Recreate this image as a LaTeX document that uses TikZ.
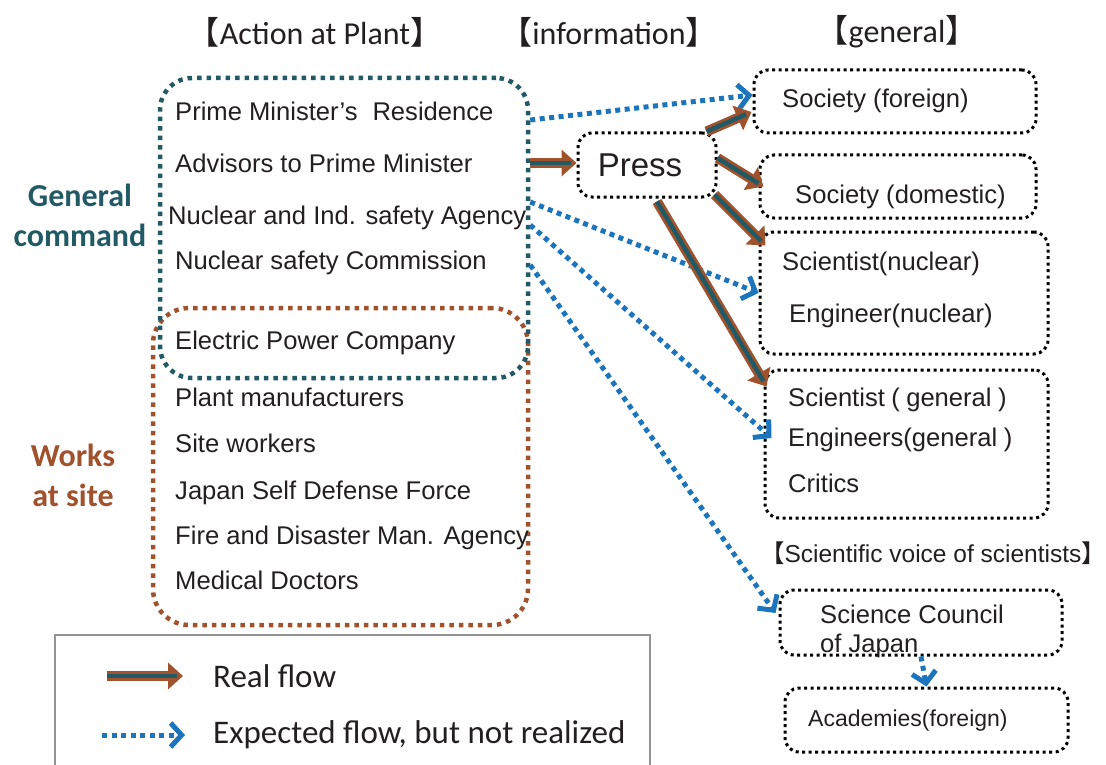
\documentclass[tikz,border=0pt]{standalone}
\usepackage{fontspec}
\setmainfont{Liberation Sans}
\newfontfamily\calfont{Carlito}
\newfontfamily\cjkfont[RawFeature=+halt]{Noto Sans CJK JP}
\usetikzlibrary{arrows.meta}
\definecolor{cmdteal}{RGB}{33,89,101}
\definecolor{sitebrown}{RGB}{160,82,45}
\definecolor{flowblue}{RGB}{28,117,188}
\definecolor{textgray}{RGB}{35,31,32}
\def\bracket#1{{\cjkfont【}#1{\cjkfont】}}
\tikzset{
	item/.style={font=\fontsize{25.6}{30}\selectfont, text=textgray, inner sep=0pt, anchor=west, text height=20pt, text depth=2pt},
	title/.style={font=\calfont\fontsize{32}{38}\selectfont, text=textgray, inner sep=0pt},
	grouplabel/.style={font=\calfont\bfseries\fontsize{32}{40}\selectfont, align=center, inner sep=0pt},
	legendtext/.style={font=\calfont\fontsize{33}{40}\selectfont, text=textgray, inner sep=0pt, anchor=west},
	dotbox/.style={draw=black, line width=3pt, dash pattern=on 3pt off 3.5pt, rounded corners=14pt, inner sep=0pt},
	groupbox/.style={line width=4.5pt, dash pattern=on 4.5pt off 5pt, inner sep=0pt},
	realflow/.style={draw=sitebrown, line width=10pt, -{Triangle[length=15pt,width=26pt]}, postaction={draw=cmdteal, line width=4.5pt, -, shorten >=6pt}},
	expflow/.style={draw=flowblue, line width=5pt, dash pattern=on 5pt off 4.5pt, -{Straight Barb[length=11pt,width=24pt]}}
}

\begin{document}
\begin{tikzpicture}[x=1pt, y=-1pt]
		%%%%% START %%%%%
		\useasboundingbox (0, 0) rectangle (1106, 765);
		
		\node[title] (plantttl) at (315, 32) {\bracket{Action at Plant}};
		\node[title] (infottl) at (609, 32) {\bracket{information}};
		\node[title] (generalttl) at (897, 32) {\bracket{general}};
		
		\node[groupbox, draw=sitebrown, rounded corners=36pt, minimum width=375pt, minimum height=317pt] (sitebox) at (340.5, 466.5) {};
		\node[groupbox, draw=cmdteal, rounded corners=32pt, minimum width=368pt, minimum height=300pt] (cmdbox) at (344, 228) {};
		
		\node[grouplabel, text=cmdteal] (cmdlabel) at (80, 215) {General\\command};
		\node[grouplabel, text=sitebrown] (sitelabel) at (73, 475) {Works\\at site};
		
		\node[item] (pmres) at (175, 112) {Prime Minister’s\hspace{0.3em} Residence};
		\node[item] (advisors) at (175, 163) {Advisors to Prime Minister};
		\node[item] (nisa) at (168, 215) {Nuclear and Ind. safety Agency};
		\node[item] (nsc) at (175, 260) {Nuclear safety Commission};
		\node[item] (epco) at (175, 340) {Electric Power Company};
		\node[item] (makers) at (175, 397) {Plant manufacturers};
		\node[item] (workers) at (175, 443) {Site workers};
		\node[item] (jsdf) at (175, 490) {Japan Self Defense Force};
		\node[item] (fdma) at (175, 535) {Fire and Disaster Man. Agency};
		\node[item] (doctors) at (175, 580) {Medical Doctors};
		
		\node[dotbox, minimum width=138pt, minimum height=64pt, font=\fontsize{33}{40}\selectfont, text=textgray] (press) at (647, 165) {\kern-14pt Press};
		
		\node[dotbox, minimum width=282pt, minimum height=63pt] (sforeign) at (895, 101.5) {};
		\node[dotbox, minimum width=276pt, minimum height=63pt] (sdomestic) at (898, 186.5) {};
		\node[dotbox, minimum width=288pt, minimum height=122pt] (scinuc) at (904, 293) {};
		\node[dotbox, minimum width=283pt, minimum height=148pt] (scigen) at (906.5, 444) {};
		\node[dotbox, minimum width=282pt, minimum height=65pt] (scj) at (921, 622.5) {};
		\node[dotbox, minimum width=283pt, minimum height=64pt] (acad) at (926.5, 720) {};
		
		\node[item] (sforeigntxt) at (782, 99) {Society (foreign)};
		\node[item] (sdomestictxt) at (795, 195) {Society (domestic)};
		\node[item] (scinuctxt) at (782, 261) {Scientist(nuclear)};
		\node[item] (enginuctxt) at (789, 313) {Engineer(nuclear)};
		\node[item] (scigentxt) at (788, 397) {Scientist\hspace{0.25em}(\hspace{0.25em}general\hspace{0.25em})};
		\node[item] (enggentxt) at (788, 437) {Engineers(general\hspace{0.25em})};
		\node[item] (criticstxt) at (788, 483) {Critics};
		
		\node[item, anchor=center, font=\fontsize{24.5}{30}\selectfont] (voicettl) at (933, 553) {\bracket{Scientific voice of scientists}};
		\node[item] (scjtxt) at (820, 614) {Science Council};
		\node[item] (scjtxtb) at (820, 643) {of Japan};
		\node[item, font=\fontsize{23}{28}\selectfont] (acadtxt) at (808, 717) {Academies(foreign)};
		
		% flows out of the command group
		\draw[expflow] ([yshift=108pt]cmdbox.east) -- ([yshift=6.5pt]sforeign.west);
		\draw[realflow] (advisors -| cmdbox.east) -- (advisors -| press.west);
		\draw[expflow] ([yshift=26pt]cmdbox.east) -- (scinuc.west);
		\draw[expflow] ([yshift=3pt]cmdbox.east) -- ([xshift=8pt,yshift=6pt]scigen.west);
		\draw[expflow] ([yshift=-37pt]cmdbox.east) -- ([xshift=-3pt,yshift=9.5pt]scj.west);
		\draw[expflow] (scj.south) -- (acad.north);
		
		% flows out of the press
		\draw[realflow] ([xshift=-11pt]press.north east) -- ([xshift=-1pt,yshift=-10.5pt]sforeign.west);
		\draw[realflow] ([yshift=7pt]press.east) -- ([xshift=5pt]sdomestic.west);
		\draw[realflow] ([xshift=-3pt,yshift=4pt]press.south east) -- ([xshift=7pt,yshift=-15pt]scinuc.north west);
		\draw[realflow] ([xshift=10pt,yshift=-3pt]press.south) -- ([xshift=3pt,yshift=-18pt]scigen.north west);
		
		% legend
		\draw[draw=gray!85, line width=1.5pt] (55, 635) rectangle (650, 780);
		\node[legendtext] (realtxt) at (213, 676) {Real flow};
		\node[legendtext] (exptxt) at (213, 735) {Expected flow, but not realized};
		\draw[realflow] ([xshift=-106pt]realtxt.west) -- ([xshift=-30pt]realtxt.west);
		\draw[expflow] ([xshift=-111pt]exptxt.west) -- ([xshift=-28pt]exptxt.west);
		
		%%%%% END %%%%%
\end{tikzpicture}
\end{document}
